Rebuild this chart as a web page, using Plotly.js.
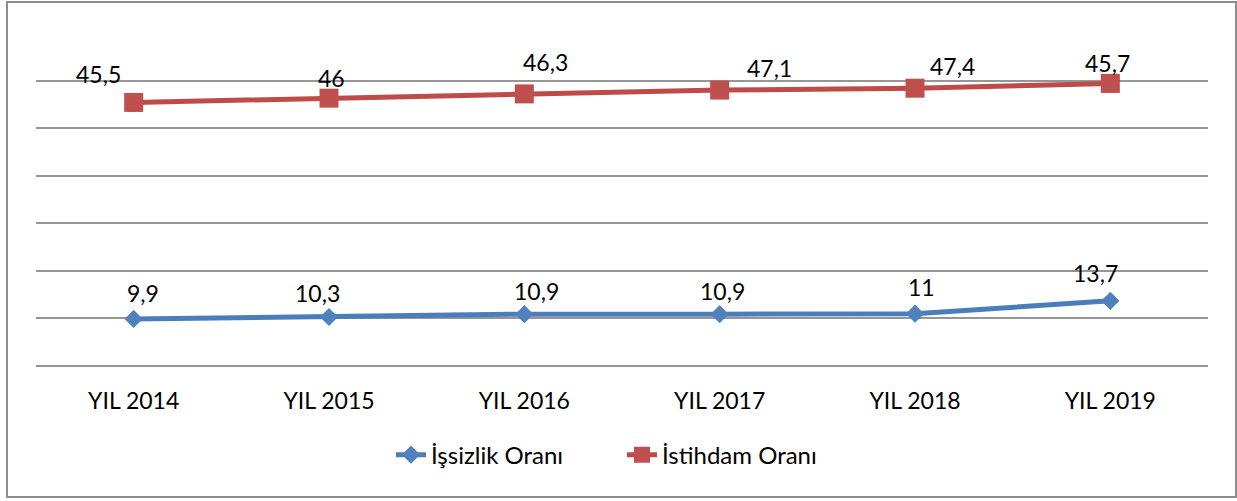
<!DOCTYPE html>
<html>
<head>
<meta charset="utf-8">
<script src="https://cdn.plot.ly/plotly-3.0.1.min.js"></script>
<style>
  html, body { margin: 0; padding: 0; background: #fff; }
  #wrap { position: relative; width: 1237px; height: 501px; }
  #chart { position: absolute; left: 0; top: 0; width: 1237px; height: 501px; }
  #frame { position: absolute; left: 6px; top: 1px; width: 1227px; height: 493px;
           border: 2px solid #8c8c8c; pointer-events: none; }
</style>
</head>
<body>
<div id="wrap">
  <div id="chart"></div>
  <div id="frame"></div>
</div>
<script>
// ---- data ----
const categories = ["YIL 2014", "YIL 2015", "YIL 2016", "YIL 2017", "YIL 2018", "YIL 2019"];
const issizlik = [9.9, 10.3, 10.9, 10.9, 11, 13.7];      // İşsizlik Oranı
const istihdam = [45.5, 46, 46.3, 47.1, 47.4, 45.7];     // İstihdam Oranı
const seriesNames = ["İşsizlik Oranı", "İstihdam Oranı"];

// ---- label placement (pixel offsets of each data label, not data) ----
const blueLabelDx = [9, -12, 12, 3, 6, -15];
const blueLabelDy = [26, 24, 23, 23, 27, 28];
const redLabelDx = [-35, 2, 21, 50, 37, -3];
const redLabelDy = [28, 20, 32, 22, 22, 20];

const FONT = "Lato, 'Liberation Sans', sans-serif";
const BLUE = "#4A7EBB", BLUE_M = "#4F81BD";
const RED = "#BE4B48", RED_M = "#C0504D";

// Stacked line chart (as in the original): second series plotted on top of the first
const stackedIstihdam = istihdam.map((v, i) => v + issizlik[i]);
const fmt = v => String(v).replace('.', ',');

const traces = [
  {
    x: categories, y: issizlik, name: seriesNames[0], type: 'scatter', mode: 'lines+markers',
    line: { color: BLUE, width: 5 },
    marker: { symbol: 'diamond', size: 14, color: BLUE_M, line: { width: 0 } }
  },
  {
    x: categories, y: stackedIstihdam, name: seriesNames[1], type: 'scatter', mode: 'lines+markers',
    line: { color: RED, width: 5 },
    marker: { symbol: 'square', size: 19, color: RED_M, line: { width: 0 } }
  }
];

const annotations = [];
categories.forEach((c, i) => {
  annotations.push({ x: c, y: issizlik[i], text: fmt(issizlik[i]), showarrow: false,
    xshift: blueLabelDx[i], yshift: blueLabelDy[i], font: { family: FONT, size: 23, color: '#000' } });
  annotations.push({ x: c, y: stackedIstihdam[i], text: fmt(istihdam[i]), showarrow: false,
    xshift: redLabelDx[i], yshift: redLabelDy[i], font: { family: FONT, size: 23, color: '#000' } });
});

const layout = {
  width: 1237, height: 501,
  margin: { l: 36, r: 29, t: 33, b: 135 },
  paper_bgcolor: '#fff', plot_bgcolor: '#fff',
  font: { family: FONT, size: 23, color: '#000' },
  showlegend: true,
  legend: { orientation: 'h', x: 0.5, xanchor: 'center', y: -0.2, yanchor: 'top',
            font: { family: FONT, size: 24, color: '#000' }, itemwidth: 30,
            entrywidth: 186, entrywidthmode: 'pixels' },
  xaxis: {
    type: 'category', range: [-0.5, 5.5], showgrid: false, zeroline: false,
    showline: false, ticks: 'outside', ticklen: 14, tickcolor: 'rgba(0,0,0,0)',
    tickfont: { family: FONT, size: 23, color: '#000' }, fixedrange: true
  },
  yaxis: {
    range: [0, 70], dtick: 10, tick0: 0, showticklabels: false, showgrid: true,
    gridcolor: '#969696', gridwidth: 2, zeroline: true, zerolinecolor: '#969696',
    zerolinewidth: 2, showline: false, ticks: '', fixedrange: true
  },
  annotations: annotations
};

Plotly.newPlot('chart', traces, layout, { displayModeBar: false, staticPlot: true });
</script>
</body>
</html>
